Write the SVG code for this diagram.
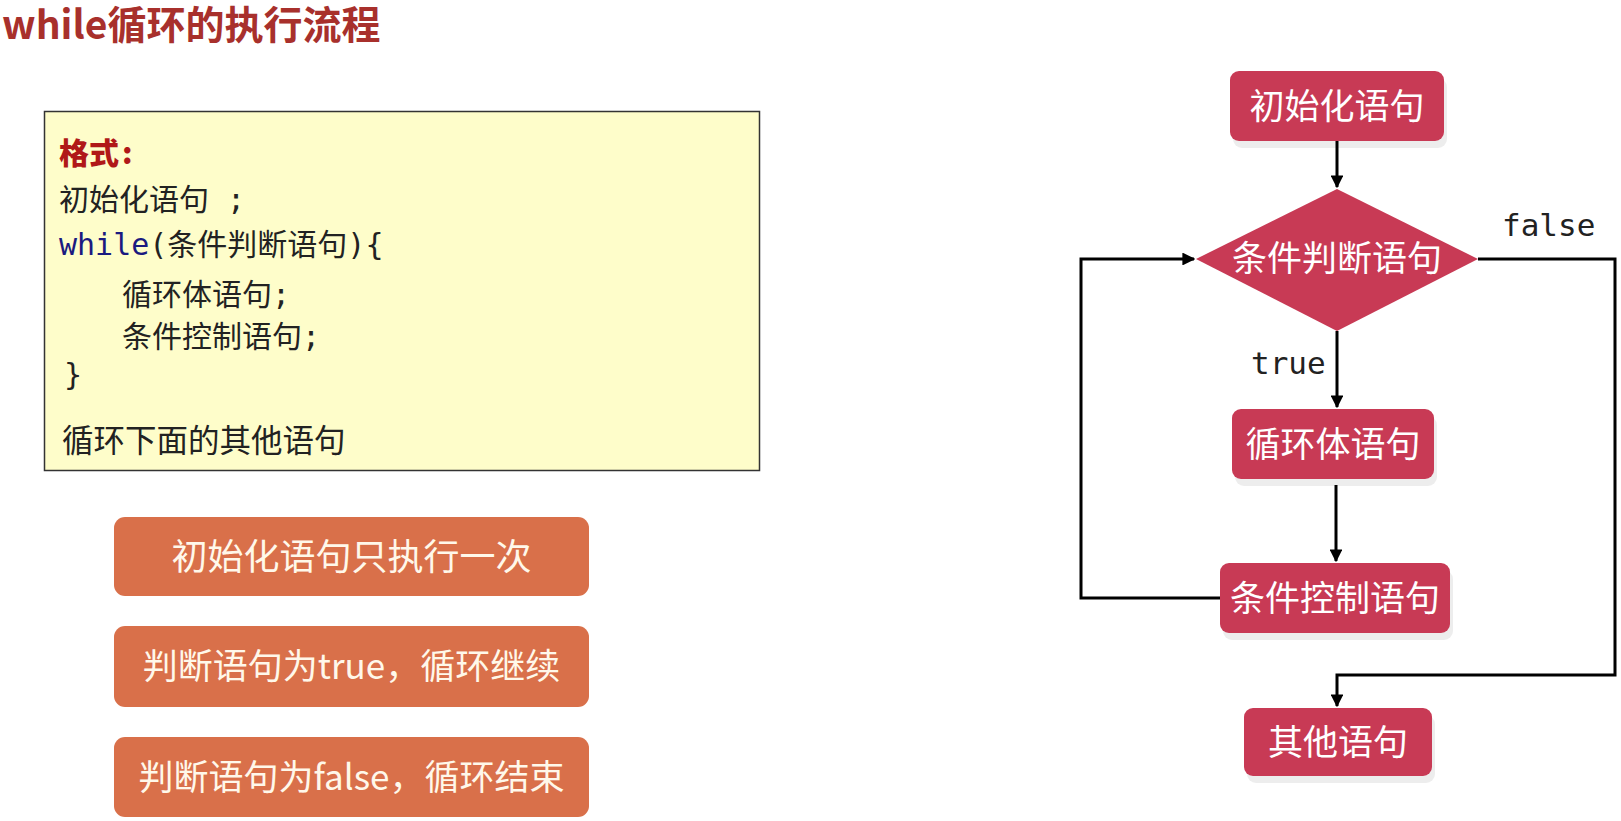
<svg xmlns="http://www.w3.org/2000/svg" width="1621" height="821" viewBox="0 0 1621 821">
<defs>
<marker id="arr" viewBox="0 0 10 10" refX="9" refY="5" markerWidth="4.3" markerHeight="4.3" orient="auto" markerUnits="strokeWidth">
<path d="M0,0 L10,5 L0,10 z" fill="#000"/>
</marker>
<style>
.title{font-family:"Noto Sans CJK SC","Noto Sans",sans-serif;font-weight:bold;font-size:39px;fill:#a8302c}
.code{font-family:"DejaVu Sans Mono","Noto Sans CJK SC",monospace;font-size:30px;fill:#222}
.kw{fill:#1a1a80}
.head{font-family:"Noto Sans CJK SC",sans-serif;font-weight:900;font-size:30px;fill:#b01818}
.note{fill:#d9704a}
.notet{font-family:"Noto Sans CJK SC","Noto Sans",sans-serif;font-size:35px;fill:#fff8ea;text-anchor:middle}
.box{fill:#c83a55}
.shadow{fill:#000;opacity:0.07}
.boxt{font-family:"Noto Sans CJK SC",sans-serif;font-size:35px;fill:#fff;text-anchor:middle}
.lbl{font-family:"DejaVu Sans Mono","Liberation Mono",monospace;font-size:31px;fill:#222}
.conn{fill:none;stroke:#000;stroke-width:3}
</style>
</defs>
<rect width="1621" height="821" fill="#fff"/>
<text class="title" x="2" y="39">while循环的执行流程</text>

<g id="format-box">
<rect x="44.5" y="111.5" width="715" height="359" fill="#fefdca" stroke="#333" stroke-width="1.5"/>
<text class="head" x="59" y="164">格式<tspan dx="3">:</tspan></text>
<text class="code" x="59" y="210">初始化语句 ;</text>
<text class="code" x="59" y="255"><tspan class="kw">while</tspan>(条件判断语句){</text>
<text class="code" x="122" y="305">循环体语句;</text>
<text class="code" x="122" y="347">条件控制语句;</text>
<text class="code" x="64" y="385">}</text>
<text class="code" x="62" y="452" style="font-size:31.5px">循环下面的其他语句</text>
</g>

<g id="note1">
<rect class="note" x="114" y="517" width="475" height="79" rx="11"/>
<text class="notet" x="351.5" y="570" style="font-size:36px">初始化语句只执行一次</text>
</g>
<g id="note2">
<rect class="note" x="114" y="626" width="475" height="81" rx="11"/>
<text class="notet" x="351.5" y="679">判断语句为true，循环继续</text>
</g>
<g id="note3">
<rect class="note" x="114" y="737" width="475" height="80" rx="11"/>
<text class="notet" x="351.5" y="790">判断语句为false，循环结束</text>
</g>

<g id="connectors">
<path class="conn" d="M1337 141 V187" marker-end="url(#arr)"/>
<path class="conn" d="M1337 331 V407" marker-end="url(#arr)"/>
<path class="conn" d="M1336 485 V561" marker-end="url(#arr)"/>
<path class="conn" d="M1220 598 H1081 V259 H1194" marker-end="url(#arr)"/>
<path class="conn" d="M1478 259 H1615 V675 H1337 V706" marker-end="url(#arr)"/>
<text class="lbl" x="1502" y="236">false</text>
<text class="lbl" x="1251" y="374">true</text>
</g>

<g id="init">
<rect class="shadow" x="1233" y="78" width="214" height="70" rx="9"/>
<rect class="box" x="1230" y="71" width="214" height="70" rx="9"/>
<text class="boxt" x="1337" y="119">初始化语句</text>
</g>
<g id="condition">
<polygon class="box" points="1337,189 1478,259 1337,331 1196,259"/>
<text class="boxt" x="1337" y="271">条件判断语句</text>
</g>
<g id="body">
<rect class="shadow" x="1235" y="416" width="202" height="70" rx="9"/>
<rect class="box" x="1232" y="409" width="202" height="70" rx="9"/>
<text class="boxt" x="1333" y="457">循环体语句</text>
</g>
<g id="control">
<rect class="shadow" x="1223" y="570" width="230" height="70" rx="9"/>
<rect class="box" x="1220" y="563" width="230" height="70" rx="9"/>
<text class="boxt" x="1335" y="611">条件控制语句</text>
</g>
<g id="other">
<rect class="shadow" x="1247" y="715" width="188" height="68" rx="9"/>
<rect class="box" x="1244" y="708" width="188" height="68" rx="9"/>
<text class="boxt" x="1338" y="755">其他语句</text>
</g>
</svg>
